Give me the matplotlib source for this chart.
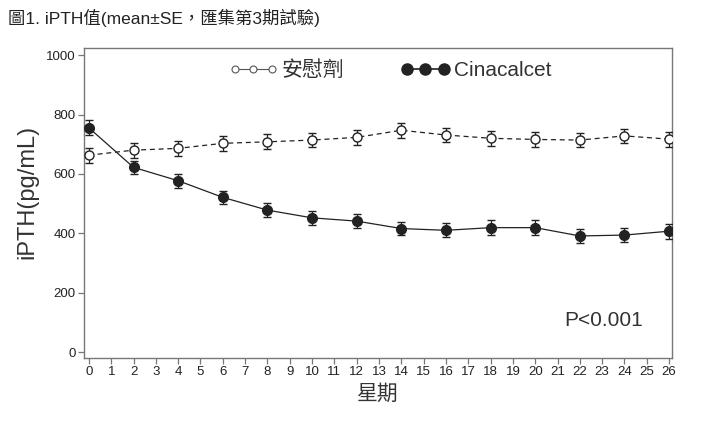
import matplotlib
matplotlib.use("Agg")
import matplotlib.pyplot as plt
from matplotlib.lines import Line2D
import numpy as np

# data (weeks, mean, SE)
weeks = [0, 2, 4, 6, 8, 10, 12, 14, 16, 18, 20, 22, 24, 26]
placebo_mean = [663, 680, 686, 703, 708, 714, 723, 747, 731, 720, 716, 714, 728, 717]
placebo_se = [25, 25, 25, 25, 25, 25, 25, 25, 25, 25, 25, 23, 23, 25]
cina_mean = [755, 622, 577, 521, 478, 452, 441, 416, 410, 419, 419, 391, 394, 407]
cina_se = [25, 23, 23, 23, 23, 23, 23, 23, 23, 25, 25, 23, 23, 25]

title = "圖1. iPTH值(mean±SE，匯集第3期試驗)"
label_placebo = "安慰劑"
label_cina = "Cinacalcet"

plt.rcParams['font.family'] = ['Liberation Sans', 'Noto Sans CJK TC', 'DejaVu Sans']
ink = "#222222"
frame = "#777777"

fig = plt.figure(figsize=(7.07, 4.25), dpi=100)
ax = fig.add_axes([84/707, 1 - 358/425, (672 - 84)/707, (358 - 48)/425])

# placebo: open circles, dashed line
ax.errorbar(weeks, placebo_mean, yerr=placebo_se, fmt='o', mfc='white', mec=ink,
            ms=6.5, mew=1.0, ecolor=ink, elinewidth=0.9, capsize=3, capthick=0.9,
            ls=(0, (4, 3)), color=ink, lw=0.9, zorder=3)
# cinacalcet: filled circles, solid line
ax.errorbar(weeks, cina_mean, yerr=cina_se, fmt='o', mfc=ink, mec=ink,
            ms=7, mew=1.0, ecolor=ink, elinewidth=0.9, capsize=3, capthick=0.9,
            ls='-', color=ink, lw=0.9, zorder=3)

ax.set_xlim(-0.22, 26.13)
ax.set_ylim(-20, 1024)
ax.set_xticks(np.arange(0, 27, 1))
ax.set_yticks([0, 200, 400, 600, 800, 1000])
ax.tick_params(axis='both', labelsize=9.5, color=frame, length=4, width=0.9,
               labelcolor=ink, pad=2)
for s in ax.spines.values():
    s.set_color(frame)
    s.set_linewidth(1.0)

ax.set_ylabel("iPTH(pg/mL)", fontsize=17, color='#333333')
ax.yaxis.set_label_coords(-0.077, 0.535)
ax.set_xlabel("星期", fontsize=15, color='#333333', labelpad=3,
              family=['Noto Sans CJK TC', 'DejaVu Sans'])

# legend
h_pl = Line2D([], [], color='#555555', lw=0.8, marker='o', mfc='white', mec='#555555',
              ms=5, mew=0.8)
h_ci = Line2D([], [], color=ink, lw=1.2, marker='o', mfc=ink, mec=ink, ms=8)
leg = ax.legend([h_pl, h_ci], [label_placebo, label_cina], loc='upper center',
                ncol=2, frameon=False, numpoints=3, handlelength=2.4,
                handletextpad=0.15, columnspacing=2.7, fontsize=15,
                bbox_to_anchor=(0.52, 1.02), labelcolor='#333333')

ax.text(0.95, 0.12, "P<0.001", transform=ax.transAxes, ha='right', va='center',
        fontsize=15, color='#333333')

fig.text(8/707, 1 - 18/425, title, fontsize=12.5, ha='left', va='center', color=ink,
         family=['Liberation Sans', 'Noto Sans CJK TC'])

fig.savefig("out.png", dpi=100)
